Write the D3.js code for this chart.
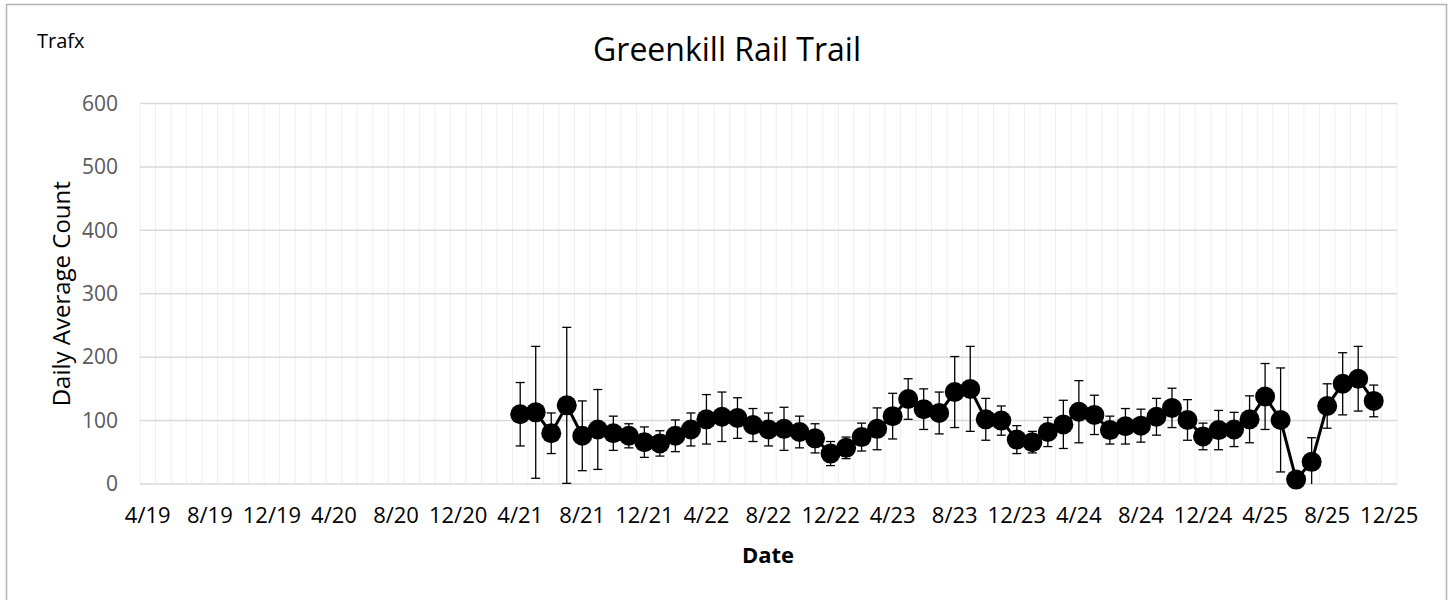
<!DOCTYPE html>
<html>
<head>
<meta charset="utf-8">
<script src="https://cdn.jsdelivr.net/npm/d3@7"></script>
<style>
  body { margin: 0; background: #fff; }
  svg { display: block; font-family: "Open Sans", sans-serif; }
</style>
</head>
<body>
<svg id="chart" width="1453" height="600"></svg>
<script>
// axe des x : un mois par case, de 4/19 a 12/25
var moisDebut = new Date(2019, 3, 1);
var moisFin = new Date(2026, 0, 1);
var etiquettesX = ["4/19","8/19","12/19","4/20","8/20","12/20","4/21","8/21","12/21","4/22","8/22","12/22",
                   "4/23","8/23","12/23","4/24","8/24","12/24","4/25","8/25","12/25"];
var graduationsY = [0, 100, 200, 300, 400, 500, 600];

// comptages moyens journaliers, un point par mois a partir de 4/21
var premierMois = new Date(2021, 3, 1);
var moyennes = [110, 113, 80, 124, 76, 86, 80, 76, 66, 64, 76, 86,
                102, 106, 104, 93, 86, 87, 82, 72, 48, 57, 74, 87,
                107, 134, 118, 112, 145, 150, 102, 100, 70, 66, 82, 94,
                114, 109, 85, 91, 92, 106, 120, 101, 75, 85, 86, 102,
                138, 101, 7, 35, 123, 158, 166, 131];
var ecarts = [50, 104, 32, 123, 55, 63, 27, 19, 24, 20, 25, 26,
              39, 39, 32, 26, 26, 34, 25, 23, 19, 17, 22, 33,
              36, 32, 32, 33, 56, 67, 33, 23, 22, 17, 23, 38,
              49, 31, 22, 28, 26, 29, 31, 32, 21, 31, 27, 37,
              52, 82, 5, 38, 35, 49, 51, 25];

var svg = d3.select("#chart");
var gauche = 140, droite = 1397, haut = 103.5, bas = 484;

// cadre du graphique
svg.append("rect").attr("x", 6.5).attr("y", 4.5).attr("width", 1440).attr("height", 620)
   .attr("fill", "#fff").attr("stroke", "#b3b3b3").attr("stroke-width", 1.5);

var mois = d3.timeMonth.range(moisDebut, moisFin);
var x = d3.scaleBand().domain(mois.map(d => +d)).range([gauche, droite]);
var y = d3.scaleLinear().domain([0, 600]).range([bas, haut]);

// quadrillage vertical (limites des mois)
svg.append("g").selectAll("line").data(mois.concat([moisFin])).join("line")
   .attr("x1", (d, i) => gauche + i * x.bandwidth()).attr("x2", (d, i) => gauche + i * x.bandwidth())
   .attr("y1", haut).attr("y2", bas)
   .attr("stroke", "#efefef").attr("stroke-width", 1);

// quadrillage horizontal
svg.append("g").selectAll("line").data(graduationsY).join("line")
   .attr("x1", gauche).attr("x2", droite)
   .attr("y1", d => y(d)).attr("y2", d => y(d))
   .attr("stroke", "#d9d9d9").attr("stroke-width", 1.5);

// axe y
var axeY = svg.append("g").attr("transform", "translate(" + gauche + ",0)")
   .call(d3.axisLeft(y).tickValues(graduationsY).tickSize(0).tickPadding(22));
axeY.select(".domain").remove();
axeY.selectAll("text").attr("font-size", 21).attr("fill", "#595959").attr("font-family", "Open Sans");

// axe x
var ticksX = mois.filter((d, i) => i % 4 == 0);
var axeX = svg.append("g").attr("transform", "translate(0," + bas + ")")
   .call(d3.axisBottom(x).tickValues(ticksX.map(d => +d))
          .tickFormat((d, i) => etiquettesX[i]).tickSize(0).tickPadding(23));
axeX.select(".domain").remove();
axeX.selectAll("text").attr("font-size", 22).attr("fill", "#000").attr("font-family", "Open Sans");

// points de donnees
var donnees = moyennes.map((v, i) => ({
    mois: d3.timeMonth.offset(premierMois, i), valeur: v, ecart: ecarts[i]
}));
var cx = d => x(+d.mois) + x.bandwidth() / 2;

// barres d'erreur
var barres = svg.append("g").attr("stroke", "#000").attr("stroke-width", 1.3);
barres.selectAll(".v").data(donnees).join("line").attr("class", "v")
   .attr("x1", cx).attr("x2", cx)
   .attr("y1", d => y(Math.max(0, d.valeur - d.ecart)))
   .attr("y2", d => y(d.valeur + d.ecart));
barres.selectAll(".h").data(donnees).join("line").attr("class", "h")
   .attr("x1", d => cx(d) - 4.5).attr("x2", d => cx(d) + 4.5)
   .attr("y1", d => y(d.valeur + d.ecart)).attr("y2", d => y(d.valeur + d.ecart));
barres.selectAll(".b").data(donnees.filter(d => d.valeur - d.ecart >= 0)).join("line").attr("class", "b")
   .attr("x1", d => cx(d) - 4.5).attr("x2", d => cx(d) + 4.5)
   .attr("y1", d => y(d.valeur - d.ecart)).attr("y2", d => y(d.valeur - d.ecart));

// ligne
svg.append("path").datum(donnees)
   .attr("d", d3.line().x(cx).y(d => y(d.valeur)))
   .attr("fill", "none").attr("stroke", "#000").attr("stroke-width", 3);

svg.append("g").selectAll("circle").data(donnees).join("circle")
   .attr("cx", cx).attr("cy", d => y(d.valeur)).attr("r", 10)
   .attr("fill", "#000");

// textes
svg.append("text").attr("x", 37).attr("y", 48).attr("font-size", 20).text("Trafx");
svg.append("text").attr("x", 727).attr("y", 61).attr("text-anchor", "middle")
   .attr("font-size", 32).attr("fill", "#000").text("Greenkill Rail Trail");
svg.append("text").attr("x", 768).attr("y", 563).attr("text-anchor", "middle")
   .attr("font-size", 22).attr("font-weight", "bold").text("Date");
svg.append("text").attr("transform", "translate(70," + ((haut + bas) / 2) + ") rotate(-90)")
   .attr("text-anchor", "middle").attr("font-size", 24).text("Daily Average Count");
</script>
</body>
</html>
